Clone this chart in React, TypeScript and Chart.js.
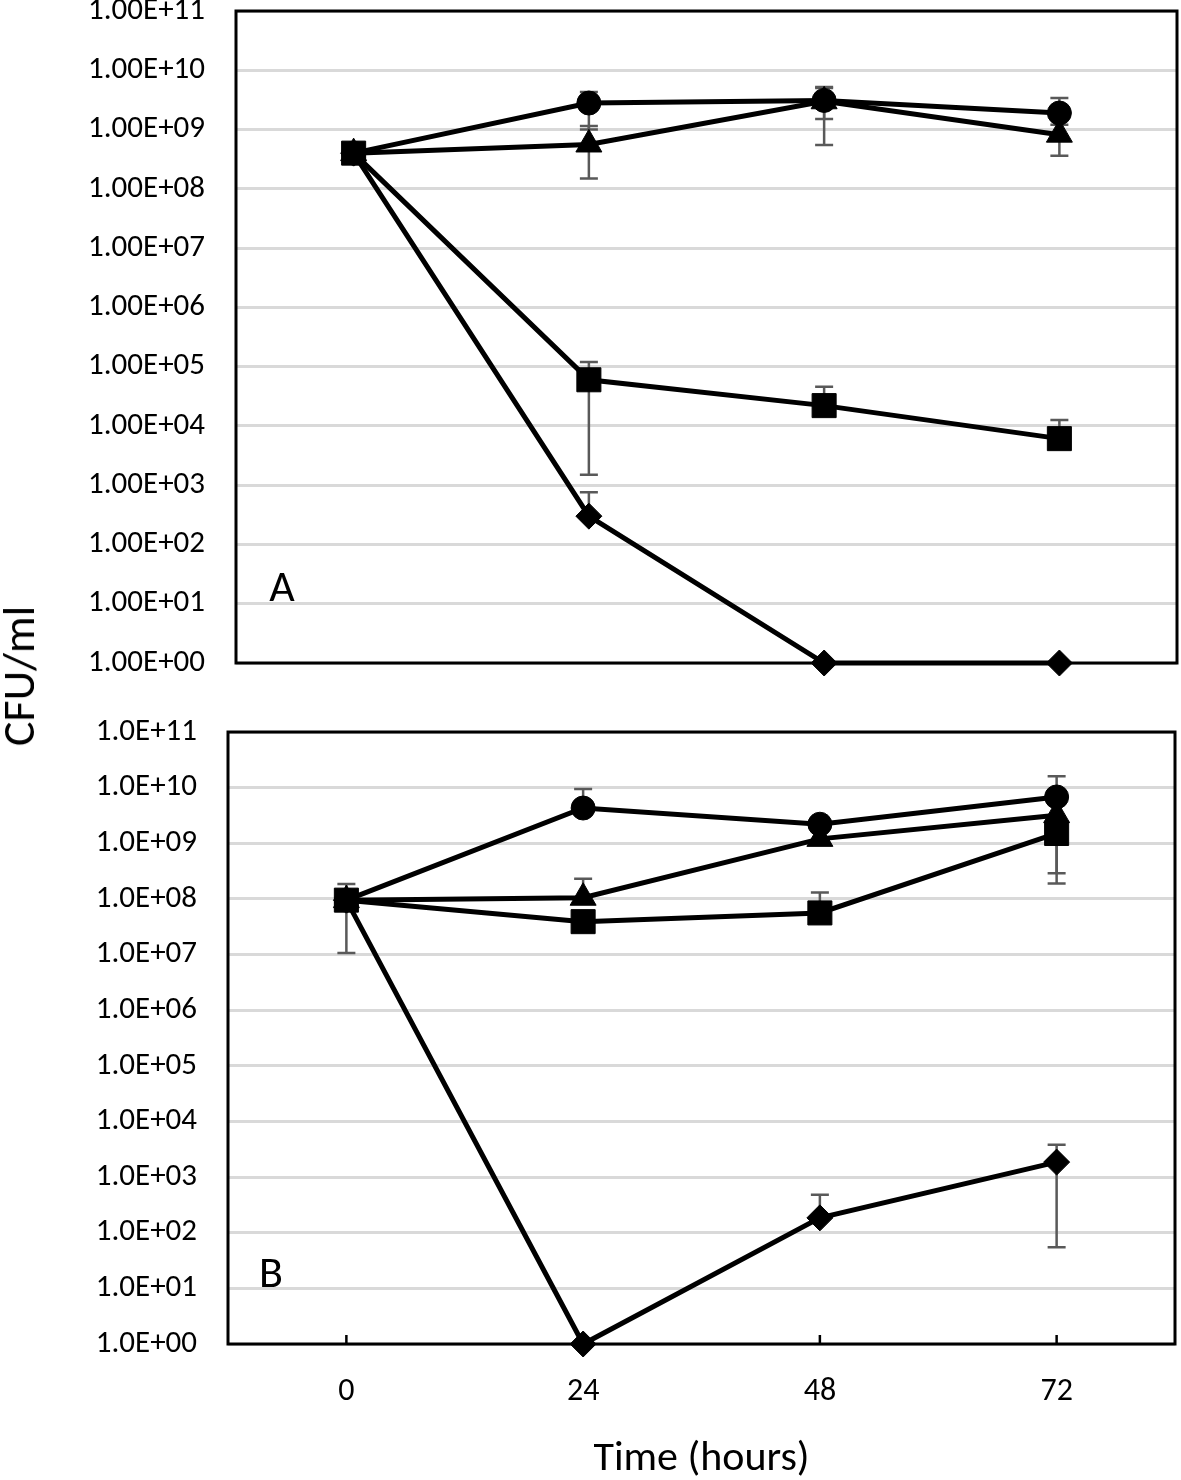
import React, { useEffect, useRef } from 'react';
import { Chart, registerables } from 'chart.js';

Chart.register(...registerables);

// ---------- data ----------
const timeLabels = ['0', '24', '48', '72'];
const yTickValues = [1, 1e1, 1e2, 1e3, 1e4, 1e5, 1e6, 1e7, 1e8, 1e9, 1e10, 1e11];
const yTickLabelsA = ['1.00E+00', '1.00E+01', '1.00E+02', '1.00E+03', '1.00E+04', '1.00E+05', '1.00E+06', '1.00E+07', '1.00E+08', '1.00E+09', '1.00E+10', '1.00E+11'];
const yTickLabelsB = ['1.0E+00', '1.0E+01', '1.0E+02', '1.0E+03', '1.0E+04', '1.0E+05', '1.0E+06', '1.0E+07', '1.0E+08', '1.0E+09', '1.0E+10', '1.0E+11'];

// Panel A
const aCircle = [4.0e8, 2.8e9, 3.1e9, 1.9e9];
const aCircleHi = [null, 4.3e9, 5.0e9, 3.4e9];
const aCircleLo = [null, 1.0e9, 1.5e9, null];
const aTriangle = [4.0e8, 5.6e8, 3.0e9, 8.2e8];
const aTriangleHi = [null, 1.15e9, 5.2e9, 1.2e9];
const aTriangleLo = [null, 1.5e8, 5.5e8, 3.6e8];
const aSquare = [4.0e8, 6.0e4, 2.2e4, 6.1e3];
const aSquareHi = [null, 1.2e5, 4.6e4, 1.26e4];
const aSquareLo = [null, 1.5e3, null, null];
const aDiamond = [4.0e8, 3.0e2, 1, 1];
const aDiamondHi = [null, 7.6e2, null, null];
const aDiamondLo = [null, null, null, null];

// Panel B
const bCircle = [9.5e7, 4.3e9, 2.2e9, 6.8e9];
const bCircleHi = [null, 9.5e9, null, 1.6e10];
const bCircleLo = [null, null, null, null];
const bTriangle = [9.5e7, 1.05e8, 1.2e9, 3.2e9];
const bTriangleHi = [null, 2.3e8, null, null];
const bTriangleLo = [null, null, null, 2.9e8];
const bSquare = [9.5e7, 3.9e7, 5.6e7, 1.5e9];
const bSquareHi = [1.85e8, null, 1.3e8, null];
const bSquareLo = [1.07e7, null, null, 1.9e8];
const bDiamond = [9.5e7, 1, 1.85e2, 1.86e3];
const bDiamondHi = [null, null, 4.8e2, 3.8e3];
const bDiamondLo = [null, null, null, 55];

// ---------- styling ----------
const FONT = "Carlito, Lato, 'Open Sans', sans-serif";
Chart.defaults.font.family = FONT;
Chart.defaults.color = '#000';

const styles = {
  circle: { pointStyle: 'circle', r: 12 },
  triangle: { pointStyle: 'triangle', r: 15 },
  square: { pointStyle: 'rect', r: 17 },
  diamond: { pointStyle: 'rectRot', r: 13 },
};

function ds(values: number[], hi: (number | null)[], lo: (number | null)[], st: { pointStyle: string; r: number }) {
  return {
    data: values,
    errHi: hi,
    errLo: lo,
    borderColor: '#000',
    backgroundColor: '#000',
    borderWidth: 5,
    pointStyle: st.pointStyle,
    pointRadius: st.r,
    pointHoverRadius: st.r,
    pointBackgroundColor: '#000',
    pointBorderColor: '#000',
    pointBorderWidth: 1,
    tension: 0,
    clip: false,
  } as any;
}

const framePlugin = {
  id: 'frame',
  beforeDatasetsDraw(chart: any, _a: any, opts: any) {
    const { ctx, chartArea } = chart;
    ctx.save();
    ctx.strokeStyle = '#000';
    ctx.lineWidth = 3;
    ctx.strokeRect(chartArea.left, chartArea.top, chartArea.right - chartArea.left, chartArea.bottom - chartArea.top);
    if (opts && opts.ticks) {
      const xs = chart.scales.x;
      ctx.lineWidth = 2.5;
      for (let i = 0; i < chart.data.labels.length; i++) {
        const x = xs.getPixelForValue(i);
        ctx.beginPath();
        ctx.moveTo(x, chartArea.bottom);
        ctx.lineTo(x, chartArea.bottom - 9);
        ctx.stroke();
      }
    }
    ctx.restore();
  },
};

const errorBarPlugin = {
  id: 'errorBars',
  beforeDatasetsDraw(chart: any) {
    const { ctx } = chart;
    const xs = chart.scales.x;
    const ys = chart.scales.y;
    ctx.save();
    ctx.strokeStyle = '#595959';
    ctx.lineWidth = 2.5;
    const cap = 9;
    chart.data.datasets.forEach((d: any) => {
      d.data.forEach((v: number, i: number) => {
        const hi = d.errHi ? d.errHi[i] : null;
        const lo = d.errLo ? d.errLo[i] : null;
        if (hi == null && lo == null) return;
        const x = xs.getPixelForValue(i);
        const yv = ys.getPixelForValue(v);
        const yh = hi != null ? ys.getPixelForValue(hi) : yv;
        const yl = lo != null ? ys.getPixelForValue(lo) : yv;
        ctx.beginPath();
        ctx.moveTo(x, yh);
        ctx.lineTo(x, yl);
        if (hi != null) {
          ctx.moveTo(x - cap, yh);
          ctx.lineTo(x + cap, yh);
        }
        if (lo != null) {
          ctx.moveTo(x - cap, yl);
          ctx.lineTo(x + cap, yl);
        }
        ctx.stroke();
      });
    });
    ctx.restore();
  },
};

const letterPlugin = {
  id: 'panelLetter',
  afterDraw(chart: any, _a: any, opts: any) {
    if (!opts || !opts.text) return;
    const { ctx, chartArea } = chart;
    ctx.save();
    ctx.fillStyle = '#000';
    ctx.font = `44px ${FONT}`;
    ctx.textAlign = 'center';
    ctx.textBaseline = 'middle';
    ctx.fillText(opts.text, chartArea.left + opts.dx, chartArea.bottom - opts.dy);
    ctx.restore();
  },
};

function makeOptions(panel: 'A' | 'B'): any {
  const isA = panel === 'A';
  const tickLabels = isA ? yTickLabelsA : yTickLabelsB;
  return {
    responsive: false,
    animation: false,
    events: [],
    layout: isA
      ? { autoPadding: false, padding: { left: 0, right: 4, top: 11, bottom: 17 } }
      : { autoPadding: false, padding: { left: 0, right: 6, top: 32, bottom: 0 } },
    plugins: {
      legend: { display: false },
      tooltip: { enabled: false },
      frame: { ticks: !isA },
      panelLetter: isA ? { text: 'A', dx: 46, dy: 73 } : { text: 'B', dx: 43, dy: 68 },
    },
    scales: {
      x: {
        type: 'category',
        offset: true,
        display: !isA,
        grid: { display: false, drawTicks: false },
        border: { display: false },
        ticks: { font: { size: 32 }, padding: 29, color: '#000' },
        title: {
          display: !isA,
          text: 'Time (hours)',
          font: { size: 42, lineHeight: 1.0 },
          padding: { top: 0, bottom: 0 },
          color: '#000',
        },
        afterFit: (s: any) => {
          if (!isA) {
            s.height = 136;
            s.paddingLeft = 0;
            s.paddingRight = 0;
          }
        },
      },
      y: {
        type: 'logarithmic',
        min: 1,
        max: 1e11,
        afterBuildTicks: (s: any) => {
          s.ticks = yTickValues.map((v) => ({ value: v }));
        },
        afterFit: (s: any) => {
          s.width = isA ? 236 : 228;
          s.paddingTop = 0;
          s.paddingBottom = 0;
        },
        grid: { color: '#d9d9d9', lineWidth: 3, drawTicks: false },
        border: { display: false },
        ticks: {
          font: { size: 31, lineHeight: 0.7 },
          padding: 31,
          color: '#000',
          autoSkip: false,
          callback: (_v: any, i: number) => tickLabels[i],
        },
      },
    },
  };
}

export default function App() {
  const refA = useRef<HTMLCanvasElement | null>(null);
  const refB = useRef<HTMLCanvasElement | null>(null);

  useEffect(() => {
    const chartA = new Chart(refA.current as HTMLCanvasElement, {
      type: 'line',
      data: {
        labels: timeLabels,
        datasets: [
          ds(aCircle, aCircleHi, aCircleLo, styles.circle),
          ds(aTriangle, aTriangleHi, aTriangleLo, styles.triangle),
          ds(aSquare, aSquareHi, aSquareLo, styles.square),
          ds(aDiamond, aDiamondHi, aDiamondLo, styles.diamond),
        ],
      },
      options: makeOptions('A'),
      plugins: [framePlugin, errorBarPlugin, letterPlugin],
    } as any);
    const chartB = new Chart(refB.current as HTMLCanvasElement, {
      type: 'line',
      data: {
        labels: timeLabels,
        datasets: [
          ds(bCircle, bCircleHi, bCircleLo, styles.circle),
          ds(bTriangle, bTriangleHi, bTriangleLo, styles.triangle),
          ds(bSquare, bSquareHi, bSquareLo, styles.square),
          ds(bDiamond, bDiamondHi, bDiamondLo, styles.diamond),
        ],
      },
      options: makeOptions('B'),
      plugins: [framePlugin, errorBarPlugin, letterPlugin],
    } as any);
    return () => {
      chartA.destroy();
      chartB.destroy();
    };
  }, []);

  return (
    <div style={{ position: 'absolute', left: 0, top: 0, width: 1181, height: 1480, background: '#fff', overflow: 'hidden' }}>
      <canvas ref={refA} width={1181} height={680} style={{ position: 'absolute', left: 0, top: 0, width: 1181, height: 680 }} />
      <canvas ref={refB} width={1181} height={780} style={{ position: 'absolute', left: 0, top: 700, width: 1181, height: 780 }} />
      <div
        style={{
          position: 'absolute',
          left: 18,
          top: 676,
          transform: 'translate(-50%, -50%) rotate(-90deg)',
          fontFamily: FONT,
          fontSize: 46,
          lineHeight: 1,
          whiteSpace: 'nowrap',
          color: '#000',
        }}
      >
        CFU/ml
      </div>
    </div>
  );
}
